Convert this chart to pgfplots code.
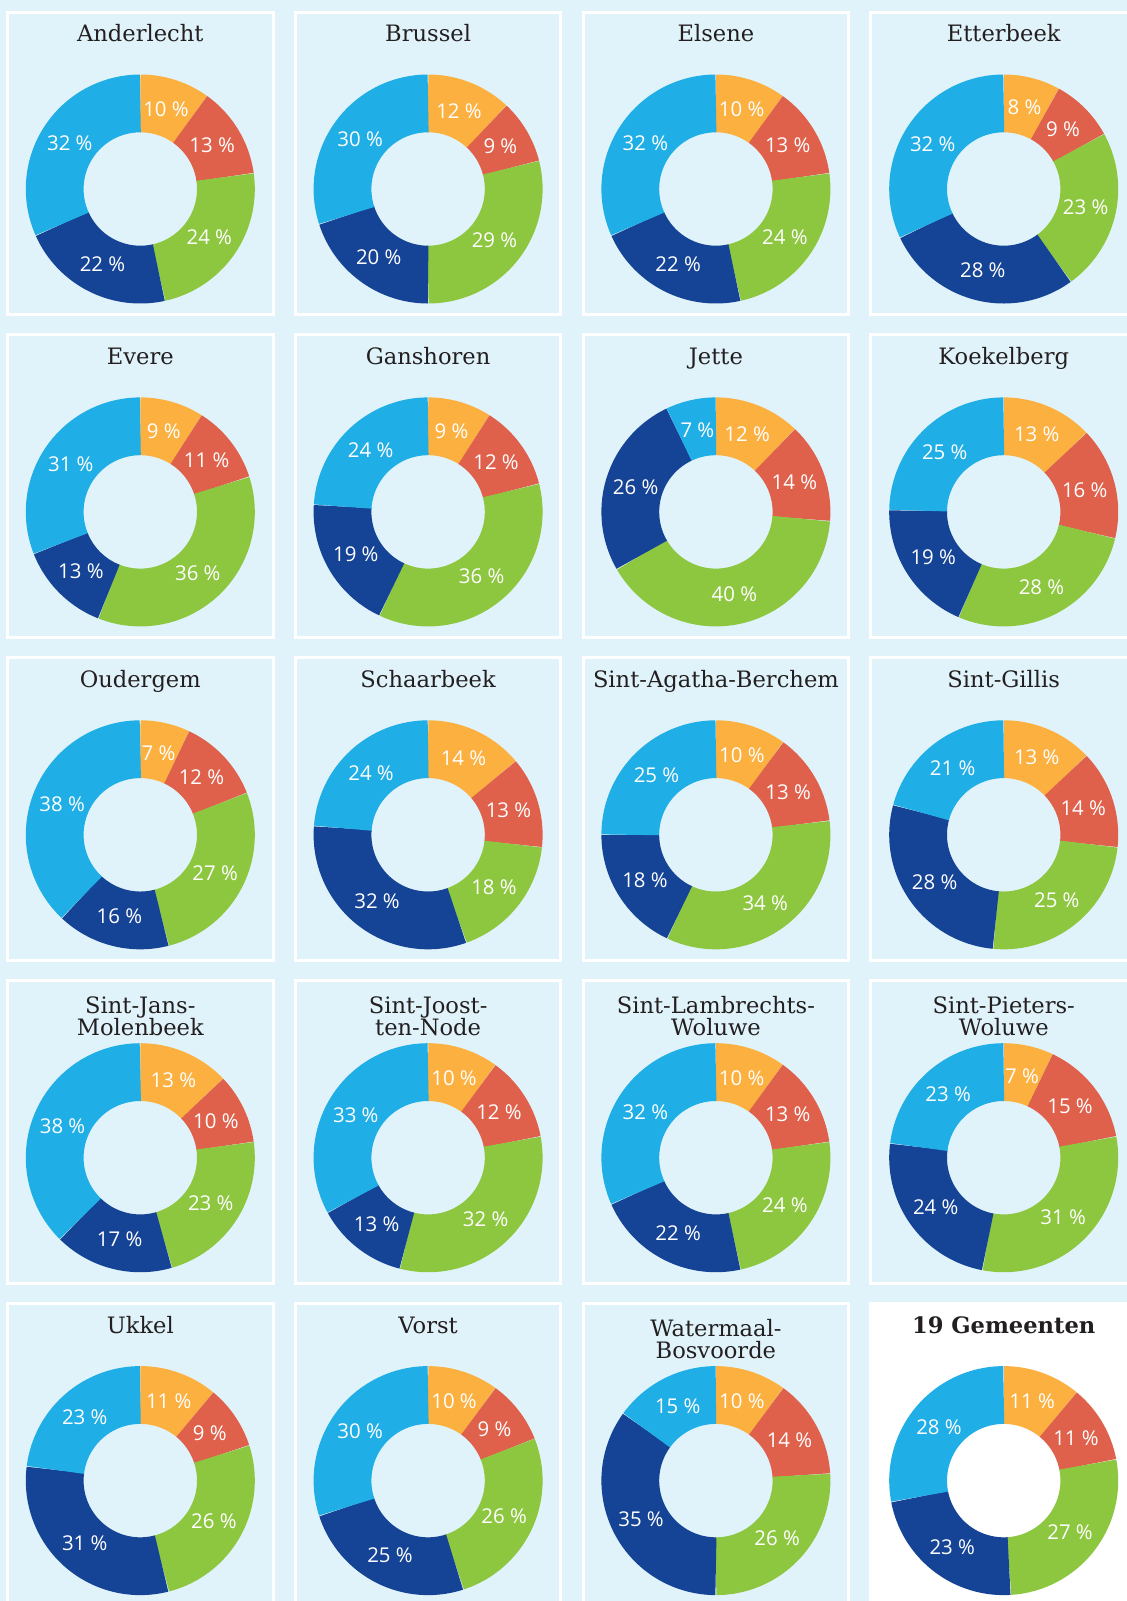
\documentclass[border=0pt]{standalone}
\usepackage{pgfplots}
\pgfplotsset{compat=1.18}
\usepackage{fontspec}
\setmainfont{Open Sans}
\newfontfamily\titlefont{DejaVu Serif}
\definecolor{cOr}{HTML}{FBB040}
\definecolor{cRe}{HTML}{DF604B}
\definecolor{cGr}{HTML}{8DC63F}
\definecolor{cDb}{HTML}{154395}
\definecolor{cLb}{HTML}{1FAEE5}
\definecolor{cBg}{HTML}{E0F3FA}
\definecolor{cTi}{HTML}{231F20}
\pgfplotsset{
  sec/.style={draw=#1, line width=28.9pt, samples=60, no markers, forget plot, data cs=polar},
  donut/.style={anchor=center, hide axis, scale only axis, width=114.5pt, height=114.5pt,
    xmin=-114.5, xmax=114.5, ymin=-114.5, ymax=114.5, clip=false},
}
\tikzset{
  ttl/.style={anchor=base, text=cTi, font=\titlefont\fontsize{11.3}{12}\selectfont, inner sep=0pt},
  lbl/.style={anchor=center, text=white, font=\fontsize{10.2}{12}\selectfont, inner sep=0pt},
}
\def\panelfill{cBg}
\def\donut#1#2#3#4#5#6#7#8#9{%
  \pgfmathsetmacro\dnX{140.3+287.8*#1}%
  \pgfmathsetmacro\dnY{189+322.9*#2}%
  \pgfmathsetmacro\dnL{\dnX-132.8}%
  \pgfmathsetmacro\dnR{\dnX+132.7}%
  \pgfmathsetmacro\dnT{\dnY-177}%
  \pgfmathsetmacro\dnB{\dnY+125.5}%
  \pgfmathsetmacro\dnTa{\dnY-147.3}%
  \pgfmathsetmacro\dnTb{\dnY-144.2}%
  \pgfmathsetmacro\dnTc{\dnY-122.0}%
  \begin{scope}[x=0.5pt,y=-0.5pt]
    \filldraw[fill=\panelfill, draw=white, line width=1.5pt] (\dnL,\dnT) rectangle (\dnR,\dnB);
    \def\tmp{#4}%
    \ifx\tmp\empty
      \node[ttl] at (\dnX,\dnTa) {#3};
    \else
      \node[ttl] at (\dnX,\dnTb) {#3};
      \node[ttl] at (\dnX,\dnTc) {#4};
    \fi
  \end{scope}
  \pgfmathsetmacro\dnPx{\dnX*0.5}%
  \pgfmathsetmacro\dnPy{-\dnY*0.5}%
  \pgfmathsetmacro\dcA{#5}%
  \pgfmathsetmacro\dcB{\dcA+#6}%
  \pgfmathsetmacro\dcC{\dcB+#7}%
  \pgfmathsetmacro\dcD{\dcC+#8}%
  \pgfmathsetmacro\dcE{\dcD+#9}%
  \pgfmathsetmacro\dtA{90-\dcA/\dcE*360}%
  \pgfmathsetmacro\dtB{90-\dcB/\dcE*360}%
  \pgfmathsetmacro\dtC{90-\dcC/\dcE*360}%
  \pgfmathsetmacro\dtD{90-\dcD/\dcE*360}%
  \pgfmathsetmacro\dmA{(90+\dtA)/2}%
  \pgfmathsetmacro\dmB{(\dtA+\dtB)/2}%
  \pgfmathsetmacro\dmC{(\dtB+\dtC)/2}%
  \pgfmathsetmacro\dmD{(\dtC+\dtD)/2}%
  \pgfmathsetmacro\dmE{(\dtD-270)/2}%
  \pgfmathsetmacro\dxA{84*cos(\dmA)}\pgfmathsetmacro\dyA{84*sin(\dmA)}%
  \pgfmathsetmacro\dxB{84*cos(\dmB)}\pgfmathsetmacro\dyB{84*sin(\dmB)}%
  \pgfmathsetmacro\dxC{84*cos(\dmC)}\pgfmathsetmacro\dyC{84*sin(\dmC)}%
  \pgfmathsetmacro\dxD{84*cos(\dmD)}\pgfmathsetmacro\dyD{84*sin(\dmD)}%
  \pgfmathsetmacro\dxE{84*cos(\dmE)}\pgfmathsetmacro\dyE{84*sin(\dmE)}%
  \begin{axis}[donut, at={(\dnPx pt,\dnPy pt)}]
    \addplot[sec=cOr, domain=\dtA:90] (x,85.6);
    \addplot[sec=cRe, domain=\dtB:\dtA] (x,85.6);
    \addplot[sec=cGr, domain=\dtC:\dtB] (x,85.6);
    \addplot[sec=cDb, domain=\dtD:\dtC] (x,85.6);
    \addplot[sec=cLb, domain=-270:\dtD] (x,85.6);
    \node[lbl] at (axis cs:\dxA,\dyA) {#5 \%};
    \node[lbl] at (axis cs:\dxB,\dyB) {#6 \%};
    \node[lbl] at (axis cs:\dxC,\dyC) {#7 \%};
    \node[lbl] at (axis cs:\dxD,\dyD) {#8 \%};
    \node[lbl] at (axis cs:\dxE,\dyE) {#9 \%};
  \end{axis}
}
\begin{document}
\begin{tikzpicture}
\useasboundingbox (0pt,0pt) rectangle (563.5pt,-800.5pt);
\fill[cBg] (0pt,0pt) rectangle (563.5pt,-800.5pt);
\donut{0}{0}{Anderlecht}{}{10}{13}{24}{22}{32}
\donut{1}{0}{Brussel}{}{12}{9}{29}{20}{30}
\donut{2}{0}{Elsene}{}{10}{13}{24}{22}{32}
\donut{3}{0}{Etterbeek}{}{8}{9}{23}{28}{32}
\donut{0}{1}{Evere}{}{9}{11}{36}{13}{31}
\donut{1}{1}{Ganshoren}{}{9}{12}{36}{19}{24}
\donut{2}{1}{Jette}{}{12}{14}{40}{26}{7}
\donut{3}{1}{Koekelberg}{}{13}{16}{28}{19}{25}
\donut{0}{2}{Oudergem}{}{7}{12}{27}{16}{38}
\donut{1}{2}{Schaarbeek}{}{14}{13}{18}{32}{24}
\donut{2}{2}{Sint-Agatha-Berchem}{}{10}{13}{34}{18}{25}
\donut{3}{2}{Sint-Gillis}{}{13}{14}{25}{28}{21}
\donut{0}{3}{Sint-Jans-}{Molenbeek}{13}{10}{23}{17}{38}
\donut{1}{3}{Sint-Joost-}{ten-Node}{10}{12}{32}{13}{33}
\donut{2}{3}{Sint-Lambrechts-}{Woluwe}{10}{13}{24}{22}{32}
\donut{3}{3}{Sint-Pieters-}{Woluwe}{7}{15}{31}{24}{23}
\donut{0}{4}{Ukkel}{}{11}{9}{26}{31}{23}
\donut{1}{4}{Vorst}{}{10}{9}{26}{25}{30}
\donut{2}{4}{Watermaal-}{Bosvoorde}{10}{14}{26}{35}{15}
\def\panelfill{white}
\donut{3}{4}{\bfseries 19 Gemeenten}{}{11}{11}{27}{23}{28}
\end{tikzpicture}
\end{document}
